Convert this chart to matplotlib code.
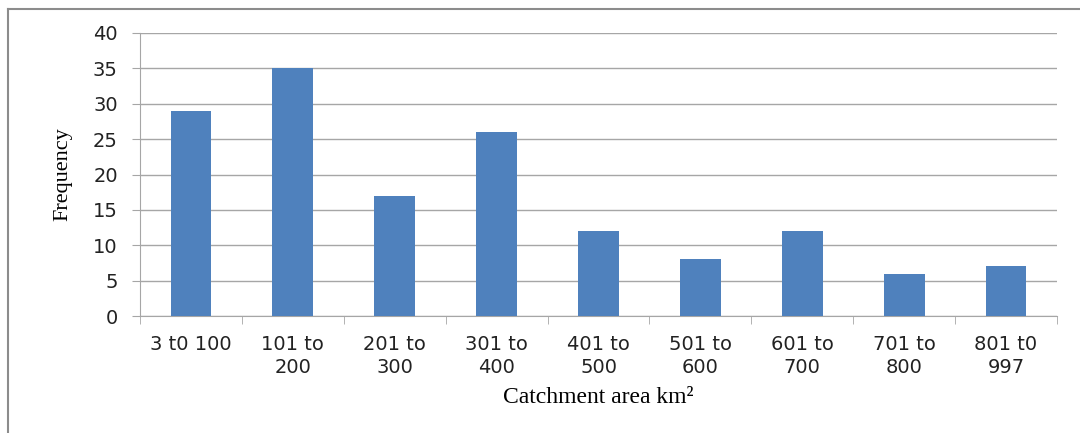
import matplotlib
matplotlib.use("Agg")
import matplotlib.pyplot as plt
from matplotlib.lines import Line2D
import numpy as np

categories = ["3 t0 100", "101 to\n200", "201 to\n300", "301 to\n400", "401 to\n500",
              "501 to\n600", "601 to\n700", "701 to\n800", "801 t0\n997"]
frequency = [29, 35, 17, 26, 12, 8, 12, 6, 7]
y_ticks = [0, 5, 10, 15, 20, 25, 30, 35, 40]

fig = plt.figure(figsize=(10.8, 4.33), dpi=100)
ax = fig.add_axes([140/1080, 1-316/433, (1057-140)/1080, (316-33)/433])

x = np.arange(len(categories))
ax.bar(x, frequency, width=0.4, color="#4f81bd", zorder=3)

ax.set_xlim(-0.5, len(categories)-0.5)
ax.set_ylim(0, 40)
ax.set_yticks(y_ticks)
ax.yaxis.grid(True, color="#a6a6a6", linewidth=1.0, zorder=0)

tick_font = "DejaVu Sans"
ax.set_yticklabels([str(v) for v in y_ticks], fontfamily=tick_font, fontsize=14, color="#222222")
ax.set_xticks(x)
ax.set_xticklabels(categories, fontfamily=tick_font, fontsize=14, color="#222222", linespacing=1.25)
ax.tick_params(axis="x", length=0, pad=14)
ax.set_xticks(np.arange(len(categories)+1)-0.5, minor=True)
ax.tick_params(axis="x", which="minor", length=6, color="#a6a6a6")
ax.tick_params(axis="y", length=6, color="#a6a6a6", pad=10)

for s in ["top", "right"]:
    ax.spines[s].set_visible(False)
ax.spines["left"].set_color("#a6a6a6")
ax.spines["bottom"].set_color("#a6a6a6")

ax.set_ylabel("Frequency", fontfamily="Liberation Serif", fontsize=16, labelpad=15)
ax.set_xlabel("Catchment area km²", fontfamily="Liberation Serif", fontsize=17, labelpad=7)

# outer frame (top and left borders)
fig.add_artist(Line2D([8/1080, 8/1080], [0, 1-9/433], transform=fig.transFigure, color="#8c8c8c", linewidth=1.5))
fig.add_artist(Line2D([8/1080, 1], [1-9/433, 1-9/433], transform=fig.transFigure, color="#8c8c8c", linewidth=1.5))

fig.savefig("out.png", dpi=100)
